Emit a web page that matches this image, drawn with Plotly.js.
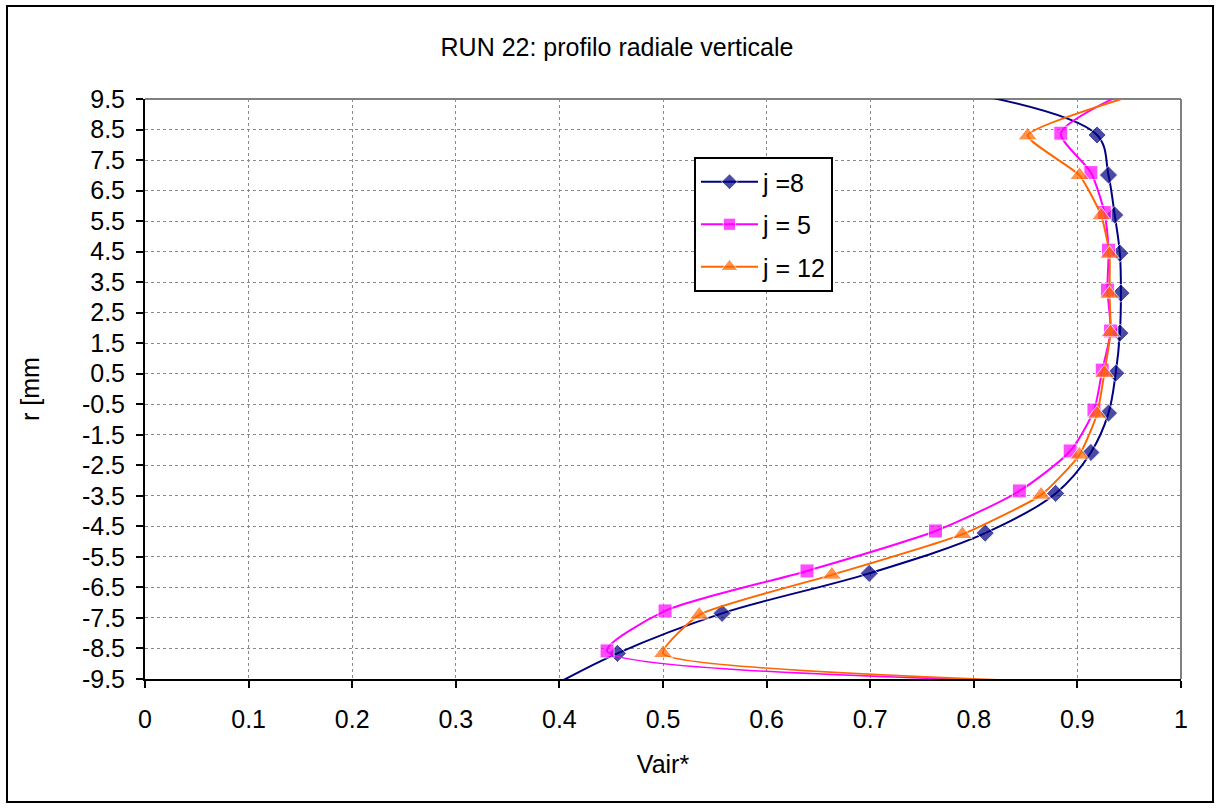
<!DOCTYPE html>
<html>
<head>
<meta charset="utf-8">
<script src="https://cdn.plot.ly/plotly-3.0.1.min.js"></script>
<style>html,body{margin:0;padding:0;background:#fff;}#chart{width:1220px;height:808px;}</style>
</head>
<body>
<div id="chart"></div>
<script>
// Series j = 8
var r8 = [9.63, 8.32, 7.01, 5.70, 4.45, 3.14, 1.83, 0.52, -0.79, -2.08, -3.42, -4.72, -6.04, -7.35, -8.66, -9.97];
var v8 = [0.805, 0.919, 0.930, 0.936, 0.941, 0.942, 0.941, 0.937, 0.930, 0.913, 0.879, 0.811, 0.699, 0.557, 0.456, 0.38];
// Series j = 5
var r5 = [9.69, 8.38, 7.09, 5.78, 4.55, 3.24, 1.90, 0.62, -0.69, -2.03, -3.34, -4.65, -5.96, -7.27, -8.58, -9.86];
var v5 = [0.945, 0.884, 0.913, 0.926, 0.930, 0.929, 0.932, 0.924, 0.916, 0.893, 0.844, 0.763, 0.639, 0.502, 0.446, 1.31];
// Series j = 12
var r12 = [9.61, 8.30, 7.00, 5.68, 4.42, 3.11, 1.85, 0.52, -0.82, -2.16, -3.47, -4.76, -6.09, -7.40, -8.66, -10.02];
var v12 = [0.953, 0.852, 0.902, 0.923, 0.931, 0.931, 0.932, 0.926, 0.919, 0.902, 0.865, 0.789, 0.663, 0.535, 0.500, 1.31];

var seriesNames = ["j =8", "j = 5", "j = 12"];
var yTicks = [9.5, 8.5, 7.5, 6.5, 5.5, 4.5, 3.5, 2.5, 1.5, 0.5, -0.5, -1.5, -2.5, -3.5, -4.5, -5.5, -6.5, -7.5, -8.5, -9.5];
var xTicks = [0, 0.1, 0.2, 0.3, 0.4, 0.5, 0.6, 0.7, 0.8, 0.9, 1];

var FONT = "Liberation Sans, Arial, sans-serif";
var FS = 25;

function sizes(n, s) {
  var a = [];
  for (var i = 0; i < n; i++) a.push((i === 0 || i === n - 1) ? 0 : s);
  return a;
}

var traces = [
  {x: v8, y: r8, name: seriesNames[0], mode: "lines+markers", legendgroup: "a",
   line: {color: "#000080", width: 2, shape: "spline", smoothing: 1},
   marker: {symbol: "diamond", size: sizes(v8.length, 14), color: "#000080"}},
  {x: v5, y: r5, name: seriesNames[1], mode: "lines+markers", legendgroup: "b",
   line: {color: "#FF00FF", width: 2, shape: "spline", smoothing: 0.7},
   marker: {symbol: "square", size: sizes(v5.length, 14), color: "#FF00FF"}},
  {x: v12, y: r12, name: seriesNames[2], mode: "lines+markers", legendgroup: "c",
   line: {color: "#FF6600", width: 2, shape: "spline", smoothing: 0.5},
   marker: {symbol: "triangle-up", size: sizes(v12.length, 17), color: "#FF6600"}}
];

var L = 145, R = 39, T = 99, B = 129, W = 1220, H = 808;
var pw = W - L - R, ph = H - T - B;
function px2x(p) { return (p - L) / pw; }
function py2y(p) { return (H - B - p) / ph; }

var layout = {
  width: W, height: H,
  margin: {l: L, r: R, t: T, b: B},
  paper_bgcolor: "#fff", plot_bgcolor: "#fff",
  font: {family: FONT, size: FS, color: "#000"},
  title: {text: "RUN 22: profilo radiale verticale", font: {family: FONT, size: FS, color: "#000"},
          xref: "container", yref: "container", x: 617 / W, y: 1 - 47 / H, xanchor: "center", yanchor: "middle"},
  xaxis: {range: [0, 1], tickvals: xTicks, ticktext: xTicks.map(String),
          showgrid: true, gridcolor: "#8a8a8a", gridwidth: 1, griddash: "dot",
          showline: true, linecolor: "#000", linewidth: 2, zeroline: false,
          ticks: "outside", ticklen: 7, tickwidth: 2, tickcolor: "#000",
          ticklabelstandoff: 10,
          tickfont: {family: FONT, size: FS, color: "#000"},
          title: {text: "Vair*", font: {family: FONT, size: FS, color: "#000"}, standoff: 23}},
  yaxis: {range: [-9.5, 9.5], tickvals: yTicks, ticktext: yTicks.map(String),
          showgrid: true, gridcolor: "#8a8a8a", gridwidth: 1, griddash: "dot",
          showline: true, linecolor: "#000", linewidth: 2, zeroline: false,
          ticks: "outside", ticklen: 7, tickwidth: 2, tickcolor: "#000",
          ticklabelstandoff: 6,
          tickfont: {family: FONT, size: FS, color: "#000"},
          title: {text: "r [mm", font: {family: FONT, size: FS, color: "#000"}, standoff: 35}},
  legend: {x: px2x(694), y: py2y(157), xanchor: "left", yanchor: "top",
           bgcolor: "#fff", bordercolor: "#000", borderwidth: 2,
           font: {family: FONT, size: FS, color: "#000"},
           itemwidth: 57,
           traceorder: "grouped", tracegroupgap: 7},
  shapes: [
    {type: "line", xref: "paper", yref: "paper", x0: 0, x1: 1, y0: 1, y1: 1, layer: "between",
     line: {color: "#808080", width: 2}},
    {type: "line", xref: "paper", yref: "paper", x0: 1, x1: 1, y0: 0, y1: 1, layer: "between",
     line: {color: "#808080", width: 2}},
    {type: "rect", xref: "paper", yref: "paper", x0: px2x(7), x1: px2x(1213), y0: py2y(802), y1: py2y(6),
     line: {color: "#000", width: 2}, fillcolor: "rgba(0,0,0,0)", layer: "above"}
  ],
  showlegend: true
};

Plotly.newPlot("chart", traces, layout, {displayModeBar: false, staticPlot: true});
</script>
</body>
</html>
